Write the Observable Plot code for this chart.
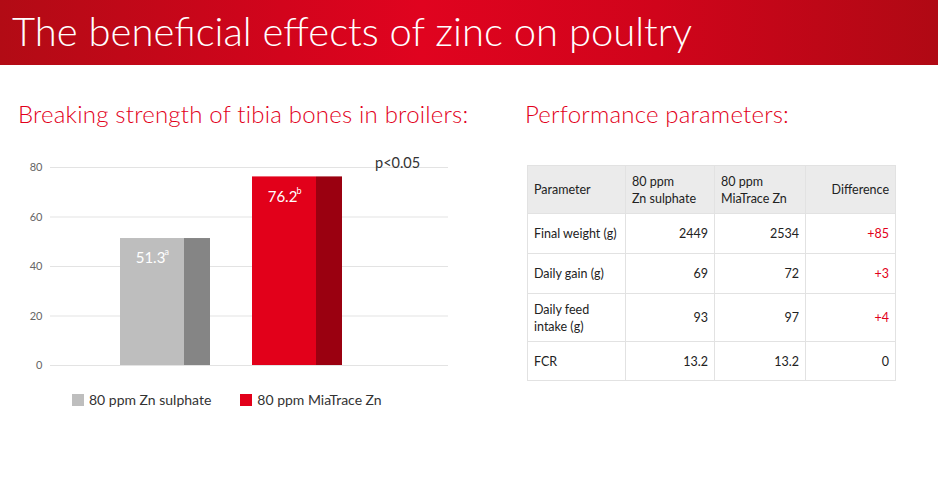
<!DOCTYPE html>
<html>
<head>
<meta charset="utf-8">
<script src="https://cdn.jsdelivr.net/npm/d3@7"></script>
<script src="https://cdn.jsdelivr.net/npm/@observablehq/plot@0.6"></script>
<style>
  html, body { margin: 0; padding: 0; background: #fff; }
  body { width: 938px; height: 490px; position: relative; overflow: hidden; font-family: Lato, "Open Sans", sans-serif; color: #222; }
  #banner { position: absolute; left: 0; top: 0; width: 938px; height: 65px;
    background: linear-gradient(90deg, #b20b15 0%, #d2041c 30%, #e0031f 45%, #d0041b 70%, #b00914 100%); }
  #banner h1 { margin: 0; position: absolute; left: 12px; top: 7px; font-weight: 300; font-size: 40px; color: #fff; letter-spacing: 0px; white-space: nowrap; }
  .sub { position: absolute; top: 99px; font-weight: 300; font-size: 24px; color: #e2001a; white-space: nowrap; letter-spacing: 0.2px; }
  #chart { position: absolute; left: 0; top: 150px; }
  #pval { position: absolute; left: 375px; top: 154px; font-size: 14.5px; color: #333; }
  #legend { position: absolute; left: 72px; top: 391px; font-size: 14px; color: #333; display: flex; }
  #legend .item { display: flex; align-items: center; }
  #legend .sw { width: 12px; height: 12px; margin-right: 5px; }
  table { position: absolute; left: 527px; top: 165px; border-collapse: collapse; font-size: 12.5px; color: #222; table-layout: fixed; }
  td, th { border: 1px solid #e2e2e2; padding: 0 6px 0 6px; white-space: pre; font-weight: 400; vertical-align: middle; line-height: 17px; overflow: visible; }
  th { background: #ebebeb; text-align: left; height: 47px; }
  td { text-align: right; }
  td.first { text-align: left; }
  td.diff { color: #e2001a; }
  td.zero { color: #222; }
</style>
</head>
<body>
<div id="banner"><h1 id="title"></h1></div>
<div class="sub" id="subL" style="left:18px"></div>
<div class="sub" id="subR" style="left:525px"></div>
<div id="chart"></div>
<div id="pval"></div>
<div id="legend"></div>
<table id="tbl"></table>
<script>
const titleText = "The beneficial effects of zinc on poultry";
const chartTitle = "Breaking strength of tibia bones in broilers:";
const tableTitle = "Performance parameters:";
const groups = ["80 ppm Zn sulphate", "80 ppm MiaTrace Zn"];
const strength = [51.3, 76.2];
const sigLetters = ["a", "b"];
const frontColors = ["#bebebe", "#e2001a"];
const sideColors = ["#858585", "#9a0010"];
const yTicks = [0, 20, 40, 60, 80];
const pValue = "p<0.05";

const tableHeader = ["Parameter", "80 ppm\nZn sulphate", "80 ppm\nMiaTrace Zn", "Difference"];
const params = ["Final weight (g)", "Daily gain (g)", "Daily feed\nintake (g)", "FCR"];
const znSulphate = ["2449", "69", "93", "13.2"];
const miaTraceZn = ["2534", "72", "97", "13.2"];
const difference = ["+85", "+3", "+4", "0"];
const rowHeights = [39, 39, 47, 38];
const colWidths = [98, 89, 91, 90];

document.getElementById("title").textContent = titleText;
document.getElementById("subL").textContent = chartTitle;
document.getElementById("subR").textContent = tableTitle;
document.getElementById("pval").textContent = pValue;

const data = groups.map((g, i) => ({group: g, value: strength[i], letter: sigLetters[i], front: frontColors[i], side: sideColors[i]}));

const chart = Plot.plot({
  width: 460,
  height: 250,
  marginTop: 17,
  marginBottom: 35,
  marginLeft: 50,
  marginRight: 12,
  style: {fontFamily: "Lato, 'Open Sans', sans-serif", fontSize: "11px", color: "#666", background: "transparent"},
  x: {type: "band", domain: groups, range: [120, 342], paddingInner: 0.32, paddingOuter: 0, axis: null},
  y: {domain: [0, 80], ticks: yTicks, tickSize: 0, tickPadding: 8, label: null},
  marks: [
    Plot.ruleY(yTicks, {stroke: "#e3e3e3", strokeWidth: 1}),
    Plot.barY(data, {x: "group", y: "value", fill: "side", insetLeft: 64}),
    Plot.barY(data, {x: "group", y: "value", fill: "front", insetRight: 26}),
    Plot.text(data, {x: "group", y: "value", text: d => d.value.toFixed(1), fill: "#fff", fontSize: 15, dx: -15, dy: 20}),
    Plot.text(data, {x: "group", y: "value", text: "letter", fill: "#fff", fontSize: 9, dx: -1, dy: 14, textAnchor: "start"})
  ]
});
document.getElementById("chart").appendChild(chart);

const legend = document.getElementById("legend");
groups.forEach((g, i) => {
  const it = document.createElement("div");
  it.className = "item";
  it.style.marginRight = i === 0 ? "29px" : "0";
  it.innerHTML = `<span class="sw" style="background:${frontColors[i]}"></span><span></span>`;
  it.lastChild.textContent = g;
  legend.appendChild(it);
});

const tbl = document.getElementById("tbl");
const hr = document.createElement("tr");
tableHeader.forEach((h, j) => {
  const th = document.createElement("th");
  th.textContent = h;
  th.style.width = (colWidths[j] - 13) + "px";
  if (j === 3) th.style.textAlign = "right";
  hr.appendChild(th);
});
tbl.appendChild(hr);
params.forEach((p, i) => {
  const tr = document.createElement("tr");
  const cells = [p, znSulphate[i], miaTraceZn[i], difference[i]];
  cells.forEach((c, j) => {
    const td = document.createElement("td");
    td.textContent = c;
    td.style.height = rowHeights[i] + "px";
    if (j === 0) td.className = "first";
    if (j === 3) td.className = difference[i].startsWith("+") ? "diff" : "zero";
    tr.appendChild(td);
  });
  tbl.appendChild(tr);
});
</script>
</body>
</html>
